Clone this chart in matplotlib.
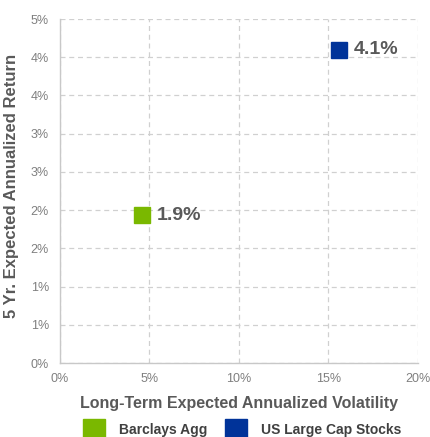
import matplotlib
matplotlib.use("Agg")
import matplotlib.pyplot as plt
from matplotlib.lines import Line2D

plt.rcParams['font.family'] = ['Liberation Sans', 'DejaVu Sans']

series = ["Barclays Agg", "US Large Cap Stocks"]
volatility = [4.56, 15.56]
returns = [1.93, 4.1]
labels = ["1.9%", "4.1%"]
colors = ["#7AB800", "#003399"]
x_ticks = [0, 5, 10, 15, 20]
x_tick_labels = ["0%", "5%", "10%", "15%", "20%"]
y_ticks = [0, 0.5, 1, 1.5, 2, 2.5, 3, 3.5, 4, 4.5]
y_tick_labels = ["0%", "1%", "1%", "2%", "2%", "3%", "3%", "4%", "4%", "5%"]

fig = plt.figure(figsize=(4.3, 4.37), dpi=100)
ax = fig.add_axes([0.1395, 0.1693, 0.8326, 0.7872])

for x, y, lab, c in zip(volatility, returns, labels, colors):
    ax.plot([x], [y], marker='s', markersize=11.2, color=c, linestyle='none', zorder=3)
    ax.annotate(lab, (x, y), xytext=(11, 0), textcoords='offset points',
                va='center', ha='left', fontsize=14, fontweight='bold', color='#595959')

ax.set_xlim(0, 20)
ax.set_ylim(0, 4.5)
ax.set_xticks(x_ticks)
ax.set_xticklabels(x_tick_labels, fontsize=9, color='#7f7f7f')
ax.set_yticks(y_ticks)
ax.set_yticklabels(y_tick_labels, fontsize=9, color='#7f7f7f')

ax.grid(True, color='#d0d0d0', linestyle=(0, (4, 3)), linewidth=0.9)
ax.set_axisbelow(True)
for s in ['top', 'right']:
    ax.spines[s].set_visible(False)
for s in ['left', 'bottom']:
    ax.spines[s].set_color('#c8c8c8')
    ax.spines[s].set_linewidth(1.0)
ax.tick_params(axis='y', length=0, pad=8)
ax.tick_params(axis='x', length=0, pad=7)

ax.set_xlabel("Long-Term Expected Annualized Volatility", fontsize=11.5, fontweight='bold', color='#595959', labelpad=8)
fig.text(12 / 430, 0.574, "5 Yr. Expected Annualized Return", rotation=90, ha='center', va='center',
         fontsize=12, fontweight='bold', color='#595959')

handles = [Line2D([], [], marker='s', markersize=16.5, color=c, linestyle='none') for c in colors]
fig.legend(handles, series, loc='center', bbox_to_anchor=(0.560, 0.015), ncol=2, frameon=False,
           prop={'size': 10, 'weight': 'bold'}, labelcolor='#404040', columnspacing=1.08,
           handletextpad=0.8)

fig.savefig("out.png", dpi=100)
